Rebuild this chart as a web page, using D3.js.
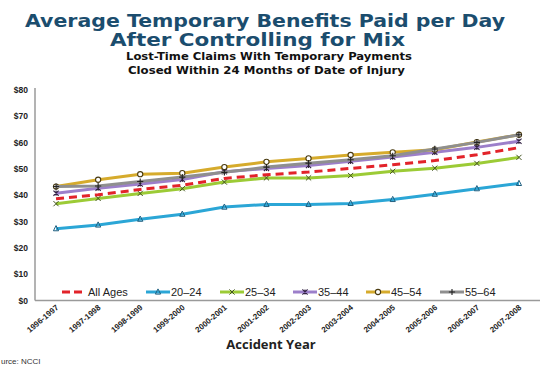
<!DOCTYPE html>
<html><head><meta charset="utf-8">
<script src="https://cdn.jsdelivr.net/npm/d3@7"></script>
<style>body{margin:0;background:#fff}svg{display:block}</style>
</head><body>
<svg id="c" width="550" height="366"></svg>
<script>
const years = ["1996-1997","1997-1998","1998-1999","1999-2000","2000-2001","2001-2002","2002-2003","2003-2004","2004-2005","2005-2006","2006-2007","2007-2008"];
const seriesNames = ["All Ages","20–24","25–34","35–44","45–54","55–64"];
const allAges = [38.7,40.2,42.2,43.8,46.4,47.8,48.8,50.2,51.6,53.2,55.4,58.1];
const age2024 = [27.3,28.7,30.9,32.8,35.5,36.5,36.5,36.9,38.4,40.4,42.5,44.5];
const age2534 = [36.8,38.8,40.7,42.5,45.0,46.6,46.6,47.5,49.1,50.3,52.1,54.4];
const age3544 = [40.8,42.7,44.3,46.0,48.9,50.2,51.3,52.9,54.5,56.3,58.2,60.5];
const age4554 = [43.3,45.9,48.0,48.4,50.7,52.7,54.0,55.3,56.3,57.3,60.2,63.0];
const age5564 = [43.3,43.5,45.2,46.9,48.7,50.7,52.2,53.5,55.0,57.6,60.1,63.0];
const yTicks = [0,10,20,30,40,50,60,70,80];
const colors = ["#e2232a","#2ba6d6","#9ccb36","#9c7fca","#d6ab2c","#8f8f8f"];
const markers = ["none","triangle","x","star","circle","plus"];
const values = [allAges,age2024,age2534,age3544,age4554,age5564];

const svg = d3.select("#c");
const L=35,R=540,T=90,B=300.5;
const x = d3.scaleBand().domain(years).range([L,R]);
const y = d3.scaleLinear().domain([0,80]).range([B,T]);
const titleColor="#1b4d6e";

function centered(txt,cx,cy,size,len,color){
  svg.append("text").attr("x",cx).attr("y",cy).attr("text-anchor","middle")
   .attr("font-family","DejaVu Sans").attr("font-weight","bold").attr("font-size",size)
   .attr("textLength",len).attr("lengthAdjust","spacingAndGlyphs")
   .attr("fill",color).text(txt);
}
centered("Average Temporary Benefits Paid per Day",265,26.5,18,480,titleColor);
centered("After Controlling for Mix",257.5,46,18,295,titleColor);
centered("Lost-Time Claims With Temporary Payments",269,59.5,10.5,286,"#111");
centered("Closed Within 24 Months of Date of Injury",266.5,73.5,10.5,277,"#111");

// y axis labels
svg.append("g").selectAll("text").data(yTicks).join("text")
 .attr("x",28).attr("y",d=>y(d)+3).attr("text-anchor","end")
 .attr("font-family","Liberation Sans").attr("font-weight","bold").attr("font-size",8.5)
 .attr("fill","#222").text(d=>"$"+d);

// axes lines
svg.append("line").attr("x1",L).attr("x2",L).attr("y1",T-2).attr("y2",B).attr("stroke","#9a9a9a").attr("stroke-width",1.5);
svg.append("line").attr("x1",L).attr("x2",R).attr("y1",B).attr("y2",B).attr("stroke","#9a9a9a").attr("stroke-width",1.5);

// x tick labels
svg.append("g").selectAll("text").data(years).join("text")
 .attr("transform",d=>`translate(${x(d)+x.bandwidth()/2+3},${B+8}) rotate(-40)`)
 .attr("text-anchor","end")
 .attr("font-family","Liberation Sans").attr("font-weight","bold").attr("font-size",8)
 .attr("fill","#222").text(d=>d);

svg.append("text").attr("x",271).attr("y",349).attr("text-anchor","middle")
 .attr("font-family","Open Sans").attr("font-weight","bold").attr("font-size",13)
 .attr("fill","#222").text("Accident Year");
svg.append("text").attr("x",1).attr("y",364).attr("font-family","Liberation Sans")
 .attr("font-size",8).attr("fill","#333").text("urce:  NCCI");

function drawMarker(g,type,cx,cy,color){
  const s=2.6;
  if(type==="triangle"){
    g.append("path").attr("d",`M${cx},${cy-s-0.5}L${cx+s},${cy+s-0.5}L${cx-s},${cy+s-0.5}Z`)
     .attr("fill","none").attr("stroke","#1f5f80").attr("stroke-width",1);
  } else if(type==="x"){
    g.append("path").attr("d",`M${cx-s},${cy-s}L${cx+s},${cy+s}M${cx-s},${cy+s}L${cx+s},${cy-s}`)
     .attr("stroke","#445522").attr("stroke-width",1);
  } else if(type==="star"){
    g.append("path").attr("d",`M${cx-s},${cy-s}L${cx+s},${cy+s}M${cx-s},${cy+s}L${cx+s},${cy-s}M${cx},${cy-s}L${cx},${cy+s}`)
     .attr("stroke","#332244").attr("stroke-width",1.1);
  } else if(type==="circle"){
    g.append("circle").attr("cx",cx).attr("cy",cy).attr("r",2.6)
     .attr("fill","#fff").attr("stroke","#4a3b10").attr("stroke-width",1.1);
  } else if(type==="plus"){
    g.append("path").attr("d",`M${cx-s-0.5},${cy}L${cx+s+0.5},${cy}M${cx},${cy-s-0.5}L${cx},${cy+s+0.5}`)
     .attr("stroke","#222").attr("stroke-width",1.1);
  }
}

const line = d3.line().x((d,i)=>x(years[i])+x.bandwidth()/2).y(d=>y(d));
const drawOrder=[1,2,0,3,4,5];
drawOrder.forEach(k=>{
  const g=svg.append("g");
  g.append("path").datum(values[k]).attr("d",line).attr("fill","none")
   .attr("stroke",colors[k]).attr("stroke-width",3)
   .attr("stroke-dasharray",k===0?"8,5":null);
  values[k].forEach((v,i)=>drawMarker(g,markers[k],x(years[i])+x.bandwidth()/2,y(v),colors[k]));
});

// legend
const legX=[62,146,220,293,366,440];
const lg=svg.append("g");
seriesNames.forEach((n,k)=>{
  const lx=legX[k], ly=292;
  lg.append("line").attr("x1",lx).attr("x2",lx+24).attr("y1",ly).attr("y2",ly)
   .attr("stroke",colors[k]).attr("stroke-width",3).attr("stroke-dasharray",k===0?"8,4":null);
  drawMarker(lg,markers[k],lx+12,ly,colors[k]);
  lg.append("text").attr("x",lx+(k===0?26:25)).attr("y",ly+4)
   .attr("font-family","Liberation Sans").attr("font-size",11).attr("fill","#222").text(n);
});
</script>
</body></html>
